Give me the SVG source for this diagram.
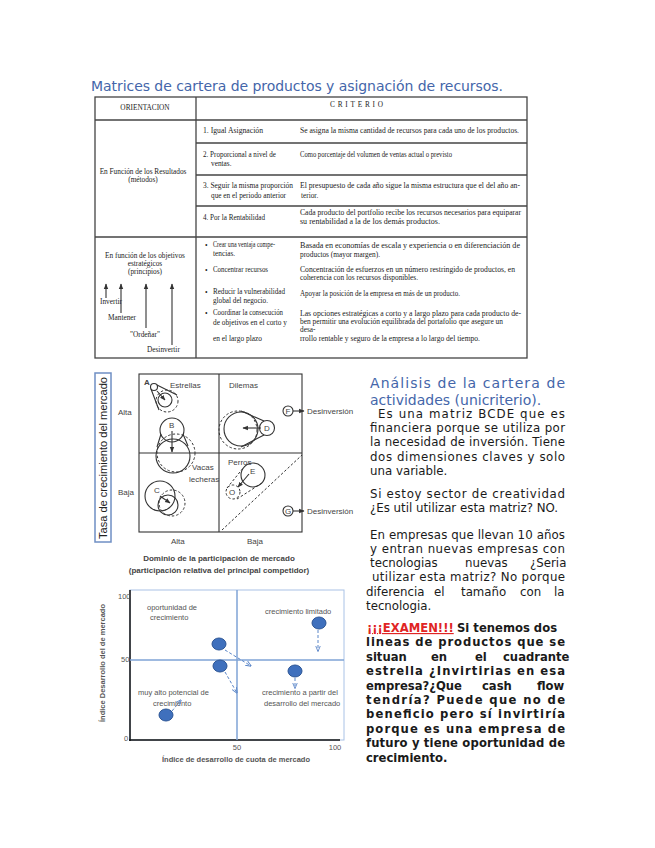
<svg xmlns="http://www.w3.org/2000/svg" width="655" height="848" viewBox="0 0 655 848">
<defs>
<style>
.hd{font-family:"DejaVu Sans",Verdana,sans-serif;font-size:14px;fill:#4466aa}
.bd{font-family:"DejaVu Sans",Verdana,sans-serif;font-size:11.8px;fill:#1a1a1a}
.bb{font-family:"DejaVu Sans",Verdana,sans-serif;font-size:11.6px;font-weight:bold;fill:#1a1a1a}
.tb{font-family:"Liberation Serif","Times New Roman",serif;font-size:7.3px;fill:#222}
.tl{stroke:#444;stroke-width:1.3;fill:none}
.bc{font-family:"Liberation Sans",Arial,sans-serif;font-size:8px;fill:#444}
.bcl{stroke:#333;stroke-width:1.1;fill:none}
.dsh{stroke:#333;stroke-width:1;fill:none;stroke-dasharray:2.5,2}
.ch{font-family:"Liberation Sans",Arial,sans-serif;font-size:7.5px;fill:#555}
.bl{stroke:#7fa3d6;stroke-width:1.5;fill:none}
.el{fill:#3f70bd;stroke:#2c5595;stroke-width:1}
.da{stroke:#5b86c8;stroke-width:1;fill:none;stroke-dasharray:3,2;marker-end:url(#bah)}
</style>
<marker id="ah" viewBox="0 0 10 10" refX="9" refY="5" markerWidth="5" markerHeight="5" orient="auto"><path d="M0,1 L10,5 L0,9 z" fill="#333"/></marker>
<marker id="bah" viewBox="0 0 10 10" refX="9" refY="5" markerWidth="6" markerHeight="6" orient="auto"><path d="M0,1 L10,5 L0,9" fill="none" stroke="#5b86c8" stroke-width="1.5"/></marker>
</defs>
<rect width="655" height="848" fill="#fff"/>

<g id="title"><text class="hd" x="91" y="91" textLength="412" lengthAdjust="spacing">Matrices de cartera de productos y asignación de recursos.</text></g>

<g id="table">
<rect class="tl" x="95" y="97" width="432" height="261"/>
<line class="tl" x1="196" y1="97" x2="196" y2="358"/>
<line class="tl" x1="95" y1="120" x2="527" y2="120"/>
<line class="tl" x1="196" y1="143" x2="527" y2="143"/>
<line class="tl" x1="196" y1="175" x2="527" y2="175"/>
<line class="tl" x1="196" y1="206" x2="527" y2="206"/>
<line class="tl" x1="95" y1="237" x2="527" y2="237"/>
<text class="tb" x="145" y="110" text-anchor="middle" font-size="7.5">ORIENTACION</text>
<text class="tb" x="330" y="107" textLength="53" lengthAdjust="spacing" font-size="7.5">CRITERIO</text>
<text class="tb" x="143" y="174" text-anchor="middle">En Función de los Resultados</text>
<text class="tb" x="143" y="182" text-anchor="middle">(métodos)</text>
<text class="tb" x="203" y="133" textLength="60" lengthAdjust="spacingAndGlyphs">1. Igual Asignación</text>
<text class="tb" x="203" y="157" textLength="73" lengthAdjust="spacingAndGlyphs">2. Proporcional a nivel de</text>
<text class="tb" x="211" y="166">ventas.</text>
<text class="tb" x="203" y="188" textLength="90" lengthAdjust="spacingAndGlyphs">3. Seguir la misma proporción</text>
<text class="tb" x="211" y="198" textLength="75" lengthAdjust="spacingAndGlyphs">que en el periodo anterior</text>
<text class="tb" x="203" y="220" textLength="62" lengthAdjust="spacingAndGlyphs">4. Por la Rentabilidad</text>
<text class="tb" x="300" y="133" textLength="219" lengthAdjust="spacingAndGlyphs">Se asigna la misma cantidad de recursos para cada uno de los productos.</text>
<text class="tb" x="300" y="157" textLength="152" lengthAdjust="spacingAndGlyphs">Como porcentaje del volumen de ventas actual o previsto</text>
<text class="tb" x="300" y="188" textLength="220" lengthAdjust="spacingAndGlyphs">El presupuesto de cada año sigue la misma estructura que el del año an-</text>
<text class="tb" x="301" y="198">terior.</text>
<text class="tb" x="300" y="215" textLength="221" lengthAdjust="spacingAndGlyphs">Cada producto del portfolio recibe los recursos necesarios para equiparar</text>
<text class="tb" x="300" y="224" textLength="140" lengthAdjust="spacingAndGlyphs">su rentabilidad a la de los demás productos.</text>
<text class="tb" x="145" y="258" text-anchor="middle">En función de los objetivos</text>
<text class="tb" x="145" y="266" text-anchor="middle">estratégicos</text>
<text class="tb" x="145" y="274" text-anchor="middle">(principios)</text>
<line class="bcl" x1="106" y1="298" x2="106" y2="284" marker-end="url(#ah)"/>
<line class="bcl" x1="121" y1="313" x2="121" y2="284" marker-end="url(#ah)"/>
<line class="bcl" x1="146" y1="328" x2="146" y2="284" marker-end="url(#ah)"/>
<line class="bcl" x1="172" y1="345" x2="172" y2="284" marker-end="url(#ah)"/>
<text class="tb" x="100" y="304" font-size="5.5">Invertir</text>
<text class="tb" x="108" y="320" font-size="6">Mantener</text>
<text class="tb" x="130" y="337" font-size="6">"Ordeñar"</text>
<text class="tb" x="147" y="352" font-size="6">Desinvertir</text>
<text class="tb" x="205" y="248">•</text>
<text class="tb" x="205" y="273">•</text>
<text class="tb" x="205" y="295">•</text>
<text class="tb" x="205" y="316">•</text>
<text class="tb" x="213" y="247" textLength="62" lengthAdjust="spacingAndGlyphs">Crear una ventaja compe-</text>
<text class="tb" x="213" y="256">tencias.</text>
<text class="tb" x="213" y="272" textLength="55" lengthAdjust="spacingAndGlyphs">Concentrar recursos</text>
<text class="tb" x="213" y="294" textLength="72" lengthAdjust="spacingAndGlyphs">Reducir la vulnerabilidad</text>
<text class="tb" x="213" y="303" textLength="55" lengthAdjust="spacingAndGlyphs">global del negocio.</text>
<text class="tb" x="213" y="315" textLength="70" lengthAdjust="spacingAndGlyphs">Coordinar la consecución</text>
<text class="tb" x="213" y="325" textLength="74" lengthAdjust="spacingAndGlyphs">de objetivos en el corto y</text>
<text class="tb" x="213" y="341" textLength="49" lengthAdjust="spacingAndGlyphs">en el largo plazo</text>
<text class="tb" x="300" y="248" textLength="220" lengthAdjust="spacingAndGlyphs">Basada en economías de escala y experiencia o en diferenciación de</text>
<text class="tb" x="300" y="257" textLength="80" lengthAdjust="spacingAndGlyphs">productos (mayor margen).</text>
<text class="tb" x="300" y="272" textLength="215" lengthAdjust="spacingAndGlyphs">Concentración de esfuerzos en un número restringido de productos, en</text>
<text class="tb" x="300" y="280" textLength="118" lengthAdjust="spacingAndGlyphs">coherencia con los recursos disponibles.</text>
<text class="tb" x="300" y="296" textLength="160" lengthAdjust="spacingAndGlyphs">Apoyar la posición de la empresa en más de un producto.</text>
<text class="tb" x="300" y="316" textLength="221" lengthAdjust="spacingAndGlyphs">Las opciones estratégicas a corto y a largo plazo para cada producto de-</text>
<text class="tb" x="300" y="324" textLength="203" lengthAdjust="spacingAndGlyphs">ben permitir una evolución equilibrada del portafolio que asegure un</text>
<text class="tb" x="300" y="332">desa-</text>
<text class="tb" x="300" y="341" textLength="180" lengthAdjust="spacingAndGlyphs">rrollo rentable y seguro de la empresa a lo largo del tiempo.</text>
</g>

<g id="bcg">
<rect x="95" y="373" width="16" height="169" fill="#fff" stroke="#6f8fc4" stroke-width="1.5"/>
<text x="107" y="458" transform="rotate(-90 107 458)" text-anchor="middle" font-family="Liberation Sans, Arial, sans-serif" font-size="11.5" fill="#222" textLength="162" lengthAdjust="spacingAndGlyphs">Tasa de crecimiento del mercado</text>
<rect class="bcl" x="139" y="374" width="163" height="158"/>
<line class="bcl" x1="219" y1="374" x2="219" y2="532"/>
<line class="bcl" x1="139" y1="453" x2="302" y2="453"/>
<line class="dsh" x1="222" y1="530" x2="302" y2="455"/>
<text class="bc" x="118" y="415">Alta</text>
<text class="bc" x="118" y="495">Baja</text>
<text class="bc" x="171" y="544">Alta</text>
<text class="bc" x="247" y="544">Baja</text>
<text class="bc" x="219" y="561" text-anchor="middle" font-weight="bold" font-size="8.2" fill="#333">Dominio de la participación de mercado</text>
<text class="bc" x="219" y="573" text-anchor="middle" font-weight="bold" font-size="8.2" fill="#333">(participación relativa del principal competidor)</text>
<text class="bc" x="170" y="388">Estrellas</text>
<text class="bc" x="229" y="388">Dilemas</text>
<text class="bc" x="192" y="470">Vacas</text>
<text class="bc" x="189" y="482">lecheras</text>
<text class="bc" x="228" y="465">Perros</text>
<text class="bc" x="144" y="385" font-weight="bold" fill="#222">A</text>
<circle class="bcl" cx="154" cy="387" r="3.5"/>
<circle class="bcl" cx="165" cy="400" r="7"/>
<circle class="dsh" cx="167" cy="401" r="11"/>
<path class="bcl" d="M151,389 L159,410 M157,385 L177,395"/>
<line class="bcl" x1="157" y1="391" x2="165" y2="400" marker-end="url(#ah)"/>
<circle class="bcl" cx="172" cy="430" r="12"/>
<circle class="bcl" cx="173" cy="456" r="17"/>
<circle class="dsh" cx="176" cy="453" r="19"/>
<path class="bcl" d="M161,434 L157,447 M183,434 L188,446"/>
<text class="bc" x="169" y="428" fill="#222">B</text>
<line class="bcl" x1="172" y1="431" x2="172" y2="452" marker-end="url(#ah)"/>
<text class="bc" x="154" y="493" fill="#222">C</text>
<circle class="bcl" cx="160" cy="496" r="15"/>
<circle class="dsh" cx="172" cy="503" r="13"/>
<circle class="bcl" cx="168" cy="505" r="10"/>
<line class="bcl" x1="160" y1="496" x2="170" y2="503" marker-end="url(#ah)"/>
<circle class="bcl" cx="241" cy="429" r="17"/>
<circle class="dsh" cx="238" cy="430" r="19"/>
<circle class="bcl" cx="267" cy="428" r="7.5"/>
<path class="bcl" d="M264,421 L241,411 M264,435 L241,447"/>
<text class="bc" x="264" y="431" fill="#222">D</text>
<line class="bcl" x1="261" y1="428" x2="243" y2="428" marker-end="url(#ah)"/>
<circle class="bcl" cx="253" cy="475" r="12"/>
<circle class="dsh" cx="233" cy="492" r="7"/>
<path class="dsh" d="M227,488 L244,467 M237,499 L262,483"/>
<text class="bc" x="250" y="474" fill="#222">E</text>
<text class="bc" x="229" y="495" fill="#222">O</text>
<line class="bcl" x1="249" y1="474" x2="238" y2="487" marker-end="url(#ah)"/>
<circle class="bcl" cx="288" cy="411" r="5"/>
<text class="bc" x="288" y="414" text-anchor="middle" font-size="7">F</text>
<line class="bcl" x1="293" y1="411" x2="304" y2="411" marker-end="url(#ah)"/>
<text class="bc" x="307" y="414">Desinversión</text>
<circle class="bcl" cx="288" cy="511" r="5"/>
<text class="bc" x="288" y="514" text-anchor="middle" font-size="7">G</text>
<line class="bcl" x1="293" y1="511" x2="304" y2="511" marker-end="url(#ah)"/>
<text class="bc" x="307" y="514">Desinversión</text>
</g>

<g id="chart">
<rect x="130" y="590" width="214" height="150" fill="none" stroke="#a9c2e6" stroke-width="1"/>
<line x1="130" y1="590" x2="130" y2="741" stroke="#111" stroke-width="1.5"/>
<line x1="129" y1="740" x2="340" y2="740" stroke="#111" stroke-width="1.5"/>
<line class="bl" x1="237" y1="590" x2="237" y2="740"/>
<line class="bl" x1="130" y1="660" x2="344" y2="660"/>
<text class="ch" x="118" y="599" font-size="7">100</text>
<text class="ch" x="121" y="662" font-size="7">50</text>
<text class="ch" x="124" y="741" font-size="6">0</text>
<text class="ch" x="237" y="750" text-anchor="middle" font-size="7">50</text>
<text class="ch" x="335" y="750" text-anchor="middle" font-size="7">100</text>
<text class="ch" x="236" y="762" text-anchor="middle" font-weight="bold" font-size="8" fill="#333">Índice de desarrollo de cuota de mercado</text>
<text class="ch" x="105" y="663" transform="rotate(-90 105 663)" text-anchor="middle" font-weight="bold" font-size="8" fill="#333">Índice Desarrollo del de mercado</text>
<text class="ch" x="147" y="610">oportunidad de</text>
<text class="ch" x="150" y="620">crecimiento</text>
<text class="ch" x="265" y="614">crecimiento limitado</text>
<text class="ch" x="138" y="695">muy alto potencial de</text>
<text class="ch" x="153" y="706">crecimiento</text>
<text class="ch" x="262" y="695">crecimiento a partir del</text>
<text class="ch" x="264" y="706">desarrollo del mercado</text>
<ellipse class="el" cx="219" cy="644" rx="7" ry="6"/>
<ellipse class="el" cx="220" cy="666" rx="7" ry="6"/>
<ellipse class="el" cx="319" cy="623" rx="7" ry="6"/>
<ellipse class="el" cx="295" cy="671" rx="7" ry="6"/>
<ellipse class="el" cx="166" cy="715" rx="7" ry="6"/>
<line class="da" x1="225" y1="650" x2="251" y2="666"/>
<line class="da" x1="225" y1="672" x2="237" y2="693"/>
<line class="da" x1="318" y1="630" x2="318" y2="651"/>
<line class="da" x1="295" y1="678" x2="295" y2="688"/>
<line class="da" x1="172" y1="711" x2="181" y2="700"/>
</g>

<g id="text">
<text class="hd" x="370" y="388" textLength="195" lengthAdjust="spacing">Análisis de la cartera de</text>
<text class="hd" x="370" y="405">actividades (unicriterio).</text>
<text class="bd" x="378" y="418" textLength="187" lengthAdjust="spacing">Es una matriz BCDE que es</text>
<text class="bd" x="370" y="432" textLength="195" lengthAdjust="spacing">financiera porque se utiliza por</text>
<text class="bd" x="370" y="446" textLength="195" lengthAdjust="spacing">la necesidad de inversión. Tiene</text>
<text class="bd" x="370" y="461" textLength="195" lengthAdjust="spacing">dos dimensiones claves y solo</text>
<text class="bd" x="370" y="475">una variable.</text>
<text class="bd" x="370" y="498" textLength="195" lengthAdjust="spacing">Si estoy sector de creatividad</text>
<text class="bd" x="370" y="512">¿Es util utilizar esta matriz? NO.</text>
<text class="bd" x="370" y="539" textLength="195" lengthAdjust="spacing">En empresas que llevan 10 años</text>
<text class="bd" x="370" y="553" textLength="195" lengthAdjust="spacing">y entran nuevas empresas con</text>
<text class="bd" y="567"><tspan x="370">tecnologias</tspan><tspan x="465">nuevas</tspan><tspan x="530">¿Seria</tspan></text>
<text class="bd" x="372" y="581" textLength="193" lengthAdjust="spacing">utilizar esta matriz? No porque</text>
<text class="bd" y="596"><tspan x="366">diferencia</tspan><tspan x="434">el</tspan><tspan x="461">tamaño</tspan><tspan x="520">con</tspan><tspan x="554">la</tspan></text>
<text class="bd" x="366" y="610">tecnologia.</text>
<text class="bb" y="632"><tspan x="367" fill="#e02424" text-decoration="underline">¡¡¡EXAMEN!!!</tspan><tspan x="457">Si tenemos dos</tspan></text>
<text class="bb" x="366" y="646" textLength="199" lengthAdjust="spacing">lineas de productos que se</text>
<text class="bb" y="661"><tspan x="366">situan</tspan><tspan x="431">en</tspan><tspan x="475">el</tspan><tspan x="503">cuadrante</tspan></text>
<text class="bb" x="366" y="675" textLength="199" lengthAdjust="spacing">estrella ¿Invirtirias en esa</text>
<text class="bb" y="690"><tspan x="366">empresa?¿Que</tspan><tspan x="482">cash</tspan><tspan x="537">flow</tspan></text>
<text class="bb" x="366" y="704" textLength="199" lengthAdjust="spacing">tendría? Puede que no de</text>
<text class="bb" x="366" y="718" textLength="199" lengthAdjust="spacing">beneficio pero sí invirtiría</text>
<text class="bb" x="366" y="733" textLength="199" lengthAdjust="spacing">porque es una empresa de</text>
<text class="bb" x="366" y="747" textLength="199" lengthAdjust="spacing">futuro y tiene oportunidad de</text>
<text class="bb" x="366" y="762">crecimiento.</text>
</g>
</svg>
